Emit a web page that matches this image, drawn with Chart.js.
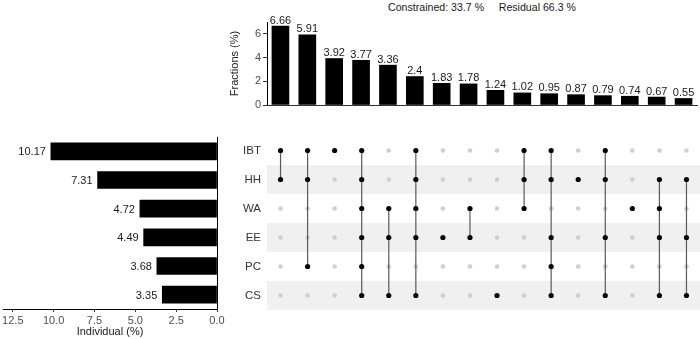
<!DOCTYPE html>
<html>
<head>
<meta charset="utf-8">
<script src="https://cdn.jsdelivr.net/npm/chart.js@4"></script>
<style>
  body { margin: 0; background: #fff; }
  #wrap { position: relative; width: 700px; height: 339px; overflow: hidden; font-family: 'Liberation Sans', Arial, sans-serif; }
  canvas { position: absolute; }
  #caption { position: absolute; top: 1px; left: 482px; transform: translateX(-50%); font-size: 10.6px; color: #1a1a1a; white-space: pre; }
</style>
</head>
<body>
<div id="wrap">
  <div id="caption">Constrained: 33.7 %     Residual 66.3 %</div>
  <canvas id="top-chart" width="480" height="112" style="left:220px;top:0px"></canvas>
  <canvas id="matrix-chart" width="470" height="174" style="left:230px;top:136px"></canvas>
  <canvas id="left-chart" width="232" height="209" style="left:0px;top:130px"></canvas>
</div>
<script>
// UpSet-style chart: intersection fractions, membership matrix, individual sizes
const setNames = ['IBT', 'HH', 'WA', 'EE', 'PC', 'CS'];
const individual = [10.17, 7.31, 4.72, 4.49, 3.68, 3.35];
const fractions = [6.66, 5.91, 3.92, 3.77, 3.36, 2.4, 1.83, 1.78, 1.24, 1.02, 0.95, 0.87, 0.79, 0.74, 0.67, 0.55];
const combos = [
    ['IBT', 'HH'],
    ['IBT', 'HH', 'PC'],
    ['IBT'],
    ['IBT', 'HH', 'WA', 'EE', 'PC', 'CS'],
    ['WA', 'EE', 'CS'],
    ['IBT', 'HH', 'WA', 'EE', 'CS'],
    ['EE'],
    ['WA', 'EE'],
    ['CS'],
    ['IBT', 'HH', 'WA'],
    ['IBT', 'HH', 'EE', 'PC', 'CS'],
    ['HH'],
    ['IBT', 'HH', 'EE', 'CS'],
    ['WA'],
    ['HH', 'WA', 'EE', 'CS'],
    ['HH', 'EE', 'CS']
];
const fractionTicks = [0, 2, 4, 6];
const individualTicks = [0, 2.5, 5, 7.5, 10, 12.5];

Chart.defaults.font.family = "'Liberation Sans', Arial, sans-serif";
Chart.defaults.font.size = 11;
Chart.defaults.color = '#4d4d4d';
Chart.defaults.animation = false;
Chart.defaults.plugins.legend.display = false;
Chart.defaults.plugins.tooltip.enabled = false;

// no automatic room for end tick labels, the layout is fixed by hand
function noEdgePadding(s) {
    s.paddingTop = 0;
    s.paddingBottom = 0;
    s.paddingLeft = 0;
    s.paddingRight = 0;
}

// value labels on bars
const barLabels = {
    id: 'barLabels',
    afterDatasetsDraw(chart, args, opts) {
        const ctx = chart.ctx;
        const meta = chart.getDatasetMeta(0);
        const values = chart.data.datasets[0].data;
        ctx.save();
        ctx.font = "11px 'Liberation Sans', Arial, sans-serif";
        ctx.fillStyle = '#1a1a1a';
        meta.data.forEach((bar, i) => {
            if (opts.side === 'left') {
                ctx.textAlign = 'right';
                ctx.textBaseline = 'middle';
                ctx.fillText(String(values[i]), bar.x - 5, bar.y + 1);
            } else {
                ctx.textAlign = 'center';
                ctx.textBaseline = 'bottom';
                ctx.fillText(String(values[i]), bar.x, bar.y);
            }
        });
        ctx.restore();
    }
};

// top: intersection fractions
new Chart(document.getElementById('top-chart'), {
    type: 'bar',
    data: {
        labels: combos.map(c => c.join('&')),
        datasets: [{ data: fractions, backgroundColor: '#000', barThickness: 17 }]
    },
    plugins: [barLabels],
    options: {
        responsive: false,
        layout: { padding: { left: 8, top: 22, right: 3, bottom: 7 } },
        plugins: { barLabels: { side: 'top' } },
        scales: {
            x: {
                ticks: { display: false },
                grid: { display: false, drawTicks: false },
                border: { display: true, color: '#333', width: 1 },
                afterFit: s => { s.height = 0; noEdgePadding(s); }
            },
            y: {
                min: 0,
                max: 7.0,
                afterBuildTicks: s => { s.ticks = fractionTicks.map(v => ({ value: v })); },
                ticks: { padding: 2, color: '#4d4d4d' },
                grid: { drawOnChartArea: false, tickLength: 4, color: '#333' },
                border: { color: '#000', width: 1 },
                title: { display: true, text: 'Fractions (%)', color: '#1a1a1a', padding: 0 },
                afterFit: s => { s.width = 39; noEdgePadding(s); }
            }
        }
    }
});

// middle: membership matrix
const grayDots = [];
const blackDots = [];
const links = [];
combos.forEach((combo, ci) => {
    const col = ci + 1;
    const rows = [];
    setNames.forEach((name, ri) => {
        const pt = { x: col, y: ri + 1 };
        if (combo.includes(name)) {
            blackDots.push(pt);
            rows.push(ri + 1);
        } else {
            grayDots.push(pt);
        }
    });
    if (rows.length > 1) {
        links.push({
            type: 'line',
            data: [{ x: col, y: Math.min(...rows) }, { x: col, y: Math.max(...rows) }],
            borderColor: '#5a5a5a',
            borderWidth: 1.2,
            pointRadius: 0,
            order: 2
        });
    }
});

const rowBands = {
    id: 'rowBands',
    beforeDatasetsDraw(chart) {
        const { ctx, chartArea, scales } = chart;
        ctx.save();
        ctx.fillStyle = '#f0f0f0';
        setNames.forEach((name, i) => {
            if (i % 2 === 1) {
                const y0 = scales.y.getPixelForValue(i + 0.5);
                const y1 = scales.y.getPixelForValue(i + 1.5);
                ctx.fillRect(chartArea.left, y0, chartArea.right - chartArea.left, y1 - y0);
            }
        });
        ctx.restore();
    }
};

new Chart(document.getElementById('matrix-chart'), {
    type: 'scatter',
    data: {
        datasets: [
            { data: grayDots, backgroundColor: '#cfcfcf', borderWidth: 0, pointRadius: 2.3, order: 3 },
            ...links,
            { data: blackDots, backgroundColor: '#000', borderWidth: 0, pointRadius: 2.6, order: 1 }
        ]
    },
    plugins: [rowBands],
    options: {
        responsive: false,
        layout: { padding: 0, autoPadding: false },
        scales: {
            x: {
                type: 'linear',
                min: 0.5,
                max: 16.5,
                display: false
            },
            y: {
                type: 'linear',
                min: 0.5,
                max: 6.5,
                reverse: true,
                afterBuildTicks: s => { s.ticks = setNames.map((n, i) => ({ value: i + 1 })); },
                ticks: { callback: v => setNames[v - 1], color: '#333', padding: 6, font: { size: 11.5 } },
                grid: { display: false, drawTicks: false },
                border: { display: false },
                afterFit: s => { s.width = 37; noEdgePadding(s); }
            }
        }
    }
});

// left: individual sizes
new Chart(document.getElementById('left-chart'), {
    type: 'bar',
    data: {
        labels: setNames,
        datasets: [{ data: individual, backgroundColor: '#000', barThickness: 17 }]
    },
    plugins: [barLabels],
    options: {
        responsive: false,
        indexAxis: 'y',
        layout: { padding: { left: 3, top: 7, right: 15, bottom: 0 } },
        plugins: { barLabels: { side: 'left' } },
        scales: {
            x: {
                min: 0,
                max: 13.1,
                reverse: true,
                afterBuildTicks: s => { s.ticks = individualTicks.map(v => ({ value: v })); },
                ticks: { callback: v => v.toFixed(1), padding: 2, color: '#4d4d4d', maxRotation: 0 },
                grid: { drawOnChartArea: false, tickLength: 3, color: '#333' },
                border: { color: '#000', width: 1 },
                title: { display: true, text: 'Individual (%)', color: '#1a1a1a', padding: 0 },
                afterFit: s => { s.height = 30; noEdgePadding(s); }
            },
            y: {
                position: 'right',
                ticks: { display: false },
                grid: { drawOnChartArea: false, drawTicks: false },
                border: { display: true, color: '#000', width: 1 },
                afterFit: s => { s.width = 0; noEdgePadding(s); }
            }
        }
    }
});
</script>
</body>
</html>
